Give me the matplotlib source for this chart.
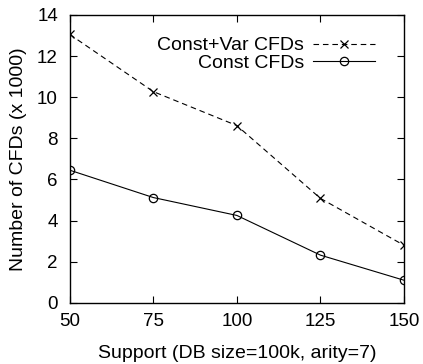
import matplotlib
matplotlib.use('Agg')
import matplotlib.pyplot as plt

plt.rcParams['font.family'] = ['Liberation Sans', 'DejaVu Sans']

support = [50, 75, 100, 125, 150]
const_var_cfds = [13.05, 10.27, 8.62, 5.08, 2.8]
const_cfds = [6.45, 5.12, 4.25, 2.32, 1.1]

fig = plt.figure(figsize=(4.23, 3.64), dpi=100)
ax = fig.add_axes([0.165, 0.168, 0.79, 0.791])

ax.plot(support, const_var_cfds, color='black', linestyle=(0, (5, 3.5)), linewidth=0.8,
        marker='x', markersize=6, markeredgewidth=0.9, label='Const+Var CFDs')
ax.plot(support, const_cfds, color='black', linestyle='-', linewidth=0.8,
        marker='o', markersize=6, markerfacecolor='none', markeredgewidth=0.9, label='Const CFDs')

ax.set_xlim(50, 150)
ax.set_ylim(0, 14)
ax.set_xticks(support)
ax.set_yticks(range(0, 15, 2))
ax.tick_params(direction='in', top=True, right=True, length=5, width=0.8, labelsize=13.5)
ax.tick_params(axis='x', pad=7)
ax.tick_params(axis='y', pad=8.5)
for s in ax.spines.values():
    s.set_linewidth(1.0)

ax.set_xlabel('Support (DB size=100k, arity=7)', fontsize=14, labelpad=11)
ax.set_ylabel('Number of CFDs (x 1000)', fontsize=14, labelpad=7)

leg = ax.legend(loc='upper right', bbox_to_anchor=(0.913, 0.924), frameon=False, fontsize=14,
                markerfirst=False, handlelength=3.2, handletextpad=0.45, borderaxespad=0.0,
                borderpad=0.0, labelspacing=0.0)

fig.savefig('out.png', dpi=100)
